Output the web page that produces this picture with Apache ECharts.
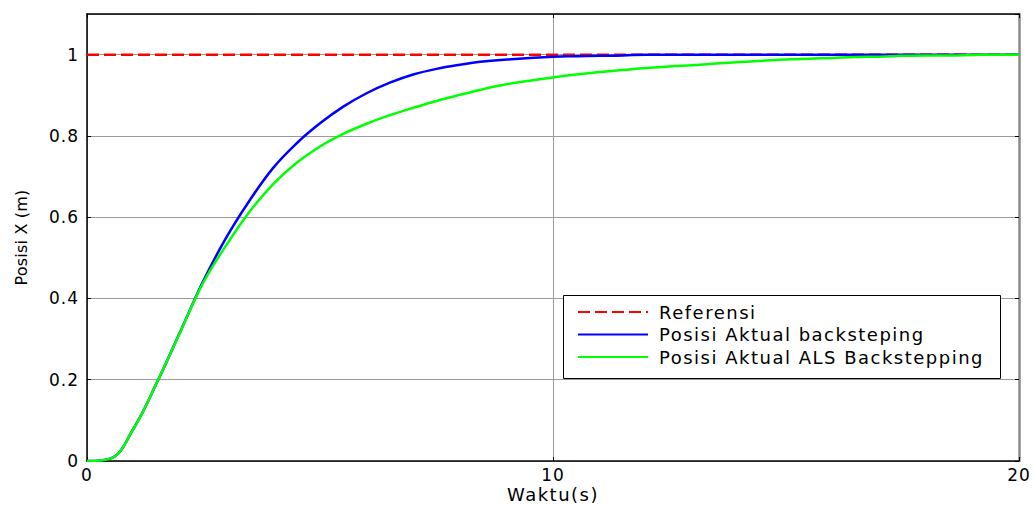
<!DOCTYPE html>
<html>
<head>
<meta charset="utf-8">
<script src="https://cdn.jsdelivr.net/npm/echarts@6/dist/echarts.min.js"></script>
<style>
  html, body { margin: 0; padding: 0; background: #fff; }
  #chart { width: 1034px; height: 505px; }
  /* wide, airy lettering for the axis and legend texts */
  #chart svg text[style*="17px"] { letter-spacing: 1px; }
  #chart svg text[style*="18px"] { letter-spacing: 1.5px; }
  #chart svg text[style*="16px"] { letter-spacing: 0.2px; }
</style>
</head>
<body>
<div id="chart"></div>
<script>
// Step response of position X (m) over time (s)
const refTime = [0, 20];
const refValues = [1, 1];

const time = [0, 0.5, 1, 1.5, 2, 2.5, 3, 3.5, 4, 4.5, 5, 5.5, 6, 6.5, 7, 7.5, 8, 8.5, 9, 9.5, 10,
  10.5, 11, 11.5, 12, 12.5, 13, 13.5, 14, 14.5, 15, 15.5, 16, 16.5, 17, 17.5, 18, 18.5, 19, 19.5, 20];

const backValues = [0, 0.006, 0.08, 0.193, 0.318, 0.444, 0.552, 0.643, 0.722, 0.782, 0.831, 0.872, 0.905, 0.931, 0.951, 0.965, 0.975, 0.983, 0.988, 0.992, 0.995,
  0.996, 0.997, 0.998, 1.0, 1.0, 1.0, 1.0, 1.0, 1.0, 1.0, 1.0, 1.0, 1.0, 1.0, 1.0, 1.0, 1.0, 1.0, 1.0, 1.0];

const alsValues = [0, 0.006, 0.08, 0.193, 0.317, 0.44, 0.533, 0.615, 0.682, 0.734, 0.774, 0.805, 0.83, 0.851, 0.869, 0.886, 0.901, 0.915, 0.927, 0.936, 0.944,
  0.951, 0.957, 0.962, 0.967, 0.971, 0.974, 0.978, 0.982, 0.985, 0.988, 0.99, 0.992, 0.994, 0.995, 0.997, 0.998, 0.998, 0.999, 1.0, 1.0];

const seriesNames = ['Referensi', 'Posisi Aktual backsteping', 'Posisi Aktual ALS Backstepping'];
const xTicks = [0, 10, 20];
const yTicks = [0, 0.2, 0.4, 0.6, 0.8, 1];

const pairs = (xs, ys) => xs.map((x, i) => [x, ys[i]]);
const FONT = '"DejaVu Sans", "Liberation Sans", Arial, sans-serif';

const chart = echarts.init(document.getElementById('chart'), null, { renderer: 'svg' });

chart.setOption({
  animation: false,
  backgroundColor: '#ffffff',
  grid: { left: 87, right: 15, top: 14, bottom: 44, containLabel: false, outerBoundsMode: 'none' },
  graphic: [{
    type: 'rect',
    z: 50,
    shape: { x: 563.5, y: 295.5, width: 437, height: 83 },
    style: { fill: '#ffffff', stroke: '#000000', lineWidth: 1 }
  }],
  legend: {
    orient: 'vertical',
    left: 577,
    top: 303,
    z: 100,
    data: seriesNames,
    padding: 0,
    itemWidth: 70,
    itemHeight: 14,
    itemGap: 4.5,
    itemStyle: { opacity: 0 },
    textStyle: { fontFamily: FONT, fontSize: 18, color: '#000000', padding: [0, 0, 0, 6] }
  },
  xAxis: [{
    type: 'value',
    min: 0, max: 20, interval: 10,
    name: 'Waktu(s)',
    nameLocation: 'middle',
    nameGap: 24,
    nameMoveOverlap: false,
    nameTextStyle: { fontFamily: FONT, fontSize: 18, lineHeight: 18, color: '#000000' },
    axisLine: { show: true, onZero: false, lineStyle: { color: '#000000', width: 1.5 } },
    axisTick: { show: true, inside: true, length: 4, lineStyle: { color: '#000000' } },
    axisLabel: {
      fontFamily: FONT, fontSize: 17, lineHeight: 17, color: '#000000', margin: 5,
      formatter: v => xTicks.includes(v) ? String(v) : ''
    },
    splitLine: { show: true, lineStyle: { color: '#9a9a9a', width: 1 } }
  }, {
    type: 'value',
    position: 'top',
    min: 0, max: 20, interval: 10,
    axisLine: { show: true, onZero: false, lineStyle: { color: '#000000', width: 1.5 } },
    axisTick: { show: true, inside: true, length: 4, lineStyle: { color: '#000000' } },
    axisLabel: { show: false },
    splitLine: { show: false }
  }],
  yAxis: [{
    type: 'value',
    min: 0, max: 1.1, interval: 0.2,
    name: 'Posisi X (m)',
    nameLocation: 'middle',
    nameRotate: 90,
    nameGap: 58,
    nameMoveOverlap: false,
    nameTextStyle: { fontFamily: FONT, fontSize: 16, color: '#000000' },
    axisLine: { show: true, onZero: false, lineStyle: { color: '#000000', width: 1.5 } },
    axisTick: { show: true, inside: true, length: 4, lineStyle: { color: '#000000' } },
    axisLabel: {
      fontFamily: FONT, fontSize: 17, color: '#000000', margin: 8,
      showMaxLabel: false,
      formatter: v => {
        const r = Math.round(v * 10) / 10;
        return yTicks.includes(r) && Math.abs(v - r) < 1e-6 ? String(r) : '';
      }
    },
    splitLine: { show: true, lineStyle: { color: '#9a9a9a', width: 1 } }
  }, {
    type: 'value',
    position: 'right',
    min: 0, max: 1.1, interval: 0.2,
    axisLine: { show: true, onZero: false, lineStyle: { color: '#8a8a8a', width: 2.5 } },
    axisTick: { show: true, inside: true, length: 4, lineStyle: { color: '#000000' } },
    axisLabel: { show: false },
    splitLine: { show: false }
  }],
  series: [{
    name: seriesNames[0],
    type: 'line',
    data: pairs(refTime, refValues),
    showSymbol: false,
    symbol: 'none',
    lineStyle: { color: '#ff0000', width: 2.5, type: [12, 5] },
    itemStyle: { color: '#ff0000' },
    z: 2
  }, {
    name: seriesNames[1],
    type: 'line',
    data: pairs(time, backValues),
    showSymbol: false,
    symbol: 'none',
    smooth: 0.4,
    lineStyle: { color: '#0000ff', width: 2.5 },
    itemStyle: { color: '#0000ff' },
    z: 3
  }, {
    name: seriesNames[2],
    type: 'line',
    data: pairs(time, alsValues),
    showSymbol: false,
    symbol: 'none',
    smooth: 0.4,
    lineStyle: { color: '#00ff00', width: 2.5 },
    itemStyle: { color: '#00ff00' },
    z: 4
  }]
});
</script>
</body>
</html>
